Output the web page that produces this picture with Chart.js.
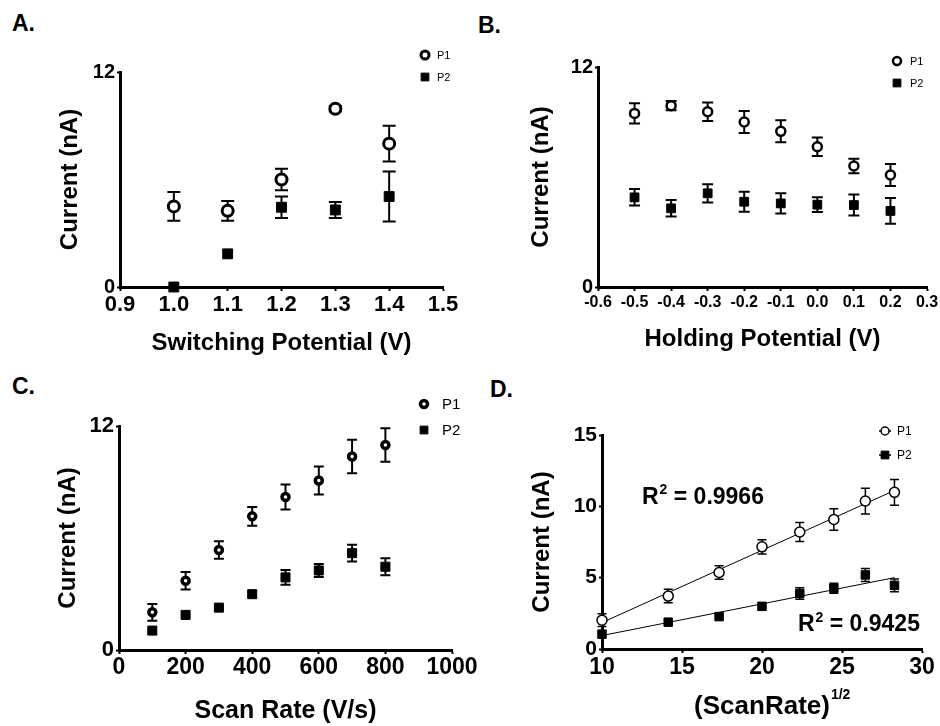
<!DOCTYPE html>
<html>
<head>
<meta charset="utf-8">
<script src="https://cdn.jsdelivr.net/npm/chart.js@4.4.0/dist/chart.umd.min.js"></script>
<style>
  body { margin: 0; background: #fff; width: 940px; height: 726px; position: relative; overflow: hidden; }
  canvas { position: absolute; }
  .tag { position: absolute; font: bold 23px "Liberation Sans", Arial, sans-serif; line-height: 1; color: #000; }
</style>
</head>
<body>
<div class="tag" style="left:12px;top:12px">A.</div>
<div class="tag" style="left:478px;top:14px">B.</div>
<div class="tag" style="left:12px;top:375px">C.</div>
<div class="tag" style="left:490px;top:378px">D.</div>
<canvas id="chartA" width="470" height="363" style="left:0;top:0"></canvas>
<canvas id="chartB" width="470" height="363" style="left:470px;top:0"></canvas>
<canvas id="chartC" width="500" height="363" style="left:0;top:363px"></canvas>
<canvas id="chartD" width="470" height="363" style="left:470px;top:363px"></canvas>
<script>
// A. switching potential
const switchV = [1.0, 1.1, 1.2, 1.3, 1.4];
const switchP1 = [4.5, 4.25, 6.0, 9.95, 8.0];
const switchP1Err = [0.8, 0.55, 0.6, 0.15, 1.0];
const switchP2 = [0.0, 1.85, 4.45, 4.3, 5.05];
const switchP2Err = [0, 0, 0.6, 0.45, 1.4];

// B. holding potential
const holdV = [-0.5, -0.4, -0.3, -0.2, -0.1, 0.0, 0.1, 0.2];
const holdP1 = [9.47, 9.89, 9.56, 9.0, 8.49, 7.65, 6.6, 6.11];
const holdP1Err = [0.55, 0.25, 0.5, 0.6, 0.6, 0.5, 0.4, 0.6];
const holdP2 = [4.89, 4.29, 5.11, 4.65, 4.56, 4.49, 4.47, 4.15];
const holdP2Err = [0.45, 0.45, 0.5, 0.55, 0.55, 0.4, 0.57, 0.7];

// C. scan rate, D. sqrt(scan rate)
const scanRate = [100, 200, 300, 400, 500, 600, 700, 800];
const rootRate = [10, 14.14, 17.32, 20, 22.36, 24.49, 26.46, 28.28];
const scanP1 = [2.02, 3.71, 5.36, 7.16, 8.2, 9.08, 10.37, 10.98];
const scanP1Err = [0.45, 0.47, 0.47, 0.5, 0.67, 0.75, 0.9, 0.9];
const scanP2 = [1.04, 1.88, 2.27, 2.99, 3.89, 4.26, 5.19, 4.46];
const scanP2Err = [0, 0, 0, 0, 0.4, 0.35, 0.45, 0.45];
const rSquared = ["0.9966", "0.9425"];

const seriesNames = ["P1", "P2"];

const FONT = '"Liberation Sans", Arial, sans-serif';
Chart.defaults.font.family = FONT;
Chart.defaults.color = "#000";
Chart.defaults.animation = false;

function pts(xs, ys) {
  return xs.map((v, i) => ({ x: v, y: ys[i] }));
}

// least squares line between first and last x
function fitLine(xs, ys) {
  const n = xs.length;
  const mx = xs.reduce((a, b) => a + b, 0) / n;
  const my = ys.reduce((a, b) => a + b, 0) / n;
  let sxy = 0, sxx = 0;
  for (let i = 0; i < n; i++) {
    sxy += (xs[i] - mx) * (ys[i] - my);
    sxx += (xs[i] - mx) * (xs[i] - mx);
  }
  const b = sxy / sxx, a = my - b * mx;
  return [{ x: xs[0], y: a + b * xs[0] }, { x: xs[n - 1], y: a + b * xs[n - 1] }];
}

const errorBars = {
  id: "errorBars",
  beforeDatasetsDraw(chart) {
    const { ctx, scales: { x, y } } = chart;
    chart.data.datasets.forEach(ds => {
      if (!ds.err) return;
      ctx.save();
      ctx.strokeStyle = "#000";
      ctx.lineWidth = ds.errWidth;
      ds.data.forEach((p, i) => {
        const e = ds.err[i];
        if (!e) return;
        const px = x.getPixelForValue(p.x);
        const top = y.getPixelForValue(p.y + e);
        const bot = y.getPixelForValue(p.y - e);
        const c = ds.capHalf;
        ctx.beginPath();
        ctx.moveTo(px, top); ctx.lineTo(px, bot);
        ctx.moveTo(px - c, top); ctx.lineTo(px + c, top);
        ctx.moveTo(px - c, bot); ctx.lineTo(px + c, bot);
        ctx.stroke();
      });
      ctx.restore();
    });
  }
};

const keys = {
  id: "keys",
  afterDraw(chart, args, o) {
    const ctx = chart.ctx;
    let row = 0;
    chart.data.datasets.forEach(ds => {
      if (!ds.key) return;
      const cx = o.x, cy = o.y + row * o.dy;
      ctx.save();
      ctx.strokeStyle = "#000";
      if (o.line) {
        ctx.lineWidth = 1.5;
        ctx.beginPath(); ctx.moveTo(cx - o.line, cy); ctx.lineTo(cx + o.line, cy); ctx.stroke();
      }
      ctx.fillStyle = ds.pointBackgroundColor;
      ctx.lineWidth = ds.pointBorderWidth;
      Chart.helpers.drawPoint(ctx, { pointStyle: ds.pointStyle, radius: o.radii[row], borderWidth: ds.pointBorderWidth, rotation: 0 }, cx, cy);
      ctx.fillStyle = "#000";
      ctx.font = o.size + "px " + FONT;
      ctx.textBaseline = "middle";
      ctx.fillText(ds.label, cx + o.gap, cy + 1);
      ctx.restore();
      row++;
    });
  }
};

const notes = {
  id: "notes",
  afterDraw(chart, args, o) {
    if (!o.items) return;
    const { ctx, scales: { x, y } } = chart;
    ctx.save();
    ctx.fillStyle = "#000";
    ctx.textBaseline = "alphabetic";
    o.items.forEach(it => {
      let px = x.getPixelForValue(it.x), py = y.getPixelForValue(it.y);
      ctx.font = "bold " + it.size + "px " + FONT;
      ctx.fillText(it.base, px, py);
      px += ctx.measureText(it.base).width + 1;
      ctx.font = "bold " + it.supSize + "px " + FONT;
      ctx.fillText(it.sup, px, py - it.size * 0.42);
      px += ctx.measureText(it.sup).width;
      ctx.font = "bold " + it.size + "px " + FONT;
      ctx.fillText(it.rest, px, py);
    });
    if (o.titleSup) {
      const t = o.titleSup;
      ctx.font = "bold " + t.size + "px " + FONT;
      const w = ctx.measureText(x.options.title.text).width;
      const tx = (x.left + x.right) / 2 + w / 2 + 1;
      const ty = x.bottom - t.size * 1.2 / 2;
      ctx.font = "bold " + t.supSize + "px " + FONT;
      ctx.textBaseline = "middle";
      ctx.fillText(t.text, tx, ty - t.size * 0.42);
    }
    ctx.restore();
  }
};

function openSet(label, xs, ys, errs, r, bw, cap, ew) {
  return {
    label: label, key: true, data: pts(xs, ys), err: errs, capHalf: cap, errWidth: ew,
    pointStyle: "circle", pointRadius: r, pointBorderWidth: bw,
    pointBackgroundColor: "#fff", pointBorderColor: "#000", showLine: false, clip: false
  };
}

function filledSet(label, xs, ys, errs, r, cap, ew) {
  return {
    label: label, key: true, data: pts(xs, ys), err: errs, capHalf: cap, errWidth: ew,
    pointStyle: "rect", pointRadius: r, pointBorderWidth: 1,
    pointBackgroundColor: "#000", pointBorderColor: "#000", showLine: false, clip: false
  };
}

function xAxis(min, max, step, title, tickSize, titleSize, pad, height, fmt) {
  return {
    type: "linear", position: "bottom", min: min, max: max,
    ticks: { stepSize: step, autoSkip: false, maxRotation: 0, padding: pad, color: "#000",
      font: { size: tickSize, weight: "bold" }, callback: fmt },
    grid: { display: true, drawOnChartArea: false, drawTicks: true, tickLength: 4, tickWidth: 2, tickColor: "#000" },
    border: { display: true, color: "#000", width: 3 },
    title: { display: true, text: title, color: "#000", padding: 0, font: { size: titleSize, weight: "bold" } },
    afterFit(s) { s.height = height; s.paddingLeft = 0; s.paddingRight = 0; }
  };
}

function yAxis(min, max, step, tickSize, width) {
  return {
    type: "linear", min: min, max: max,
    ticks: { stepSize: step, padding: 2, color: "#000", font: { size: tickSize, weight: "bold" } },
    grid: { display: true, drawOnChartArea: false, drawTicks: true, tickLength: 3, tickWidth: 2, tickColor: "#000" },
    border: { display: true, color: "#000", width: 3 },
    title: { display: true, text: "Current (nA)", color: "#000", padding: 0, font: { size: 24, weight: "bold" } },
    afterFit(s) { s.width = width; s.paddingTop = 0; s.paddingBottom = 0; }
  };
}

const oneDecimal = v => (Math.abs(v) < 1e-9 ? 0 : v).toFixed(1);

function panel(id, datasets, scales, padding, keyOpts, noteOpts) {
  new Chart(document.getElementById(id), {
    type: "scatter",
    data: { datasets: datasets },
    options: {
      responsive: false,
      layout: { padding: padding },
      scales: scales,
      plugins: { legend: { display: false }, tooltip: { enabled: false }, keys: keyOpts, notes: noteOpts || {} }
    },
    plugins: [errorBars, keys, notes]
  });
}

panel("chartA",
  [openSet(seriesNames[0], switchV, switchP1, switchP1Err, 5.5, 3, 6.5, 2),
   filledSet(seriesNames[1], switchV, switchP2, switchP2Err, 7, 6.5, 2)],
  { x: xAxis(0.9, 1.5, 0.1, "Switching Potential (V)", 22, 24, 1, 71, oneDecimal), y: yAxis(0, 12, 12, 20, 64) },
  { left: 56, top: 72, right: 27, bottom: 5 },
  { x: 425, y: 55, dy: 22, size: 11, gap: 12, radii: [4, 5.5] });

panel("chartB",
  [openSet(seriesNames[0], holdV, holdP1, holdP1Err, 4.5, 2.5, 5.5, 2),
   filledSet(seriesNames[1], holdV, holdP2, holdP2Err, 6.2, 5.5, 2)],
  { x: xAxis(-0.6, 0.3, 0.1, "Holding Potential (V)", 16, 24, 2, 67, oneDecimal), y: yAxis(0, 12, 12, 20, 71) },
  { left: 57, top: 67, right: 13, bottom: 9 },
  { x: 427, y: 61, dy: 22, size: 11, gap: 13, radii: [4, 5.5] });

panel("chartC",
  [openSet(seriesNames[0], scanRate, scanP1, scanP1Err, 3.5, 3.5, 5, 2),
   filledSet(seriesNames[1], scanRate, scanP2, scanP2Err, 6.4, 5, 2)],
  { x: xAxis(0, 1000, 200, "Scan Rate (V/s)", 23, 25, 0, 76, v => v), y: yAxis(0, 12, 12, 22, 65) },
  { left: 54, top: 63, right: 48, bottom: 0 },
  { x: 424, y: 41, dy: 26, size: 15, gap: 18, radii: [3.5, 5.5] });

panel("chartD",
  [openSet(seriesNames[0], rootRate, scanP1, scanP1Err, 5, 1.5, 4.5, 1.5),
   filledSet(seriesNames[1], rootRate, scanP2, scanP2Err, 6, 4.5, 1.5),
   { data: fitLine(rootRate, scanP1), showLine: true, pointRadius: 0, borderColor: "#000", borderWidth: 1, clip: false },
   { data: fitLine(rootRate, scanP2), showLine: true, pointRadius: 0, borderColor: "#000", borderWidth: 1, clip: false }],
  { x: xAxis(10, 30, 5, "(ScanRate)", 23, 26, 1, 73, v => v), y: yAxis(0, 15, 5, 21, 74) },
  { left: 58, top: 72, right: 18, bottom: 4 },
  { x: 415, y: 68, dy: 24, size: 12, gap: 12, radii: [4, 5.5], line: 6 },
  { items: [
      { x: 12.5, y: 10.19, size: 23, supSize: 14, base: "R", sup: "2", rest: " = " + rSquared[0] },
      { x: 22.25, y: 1.24, size: 23, supSize: 14, base: "R", sup: "2", rest: " = " + rSquared[1] }],
    titleSup: { size: 26, supSize: 14, text: "1/2" } });
</script>
</body>
</html>
